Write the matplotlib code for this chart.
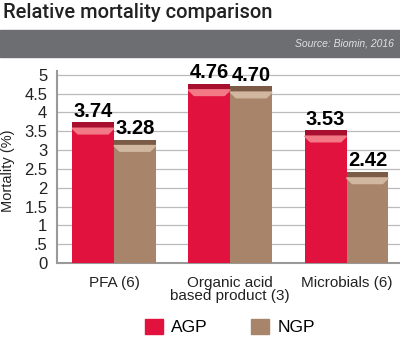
import matplotlib.pyplot as plt
import matplotlib.patches as mpatches
import numpy as np

categories = ["PFA (6)", "Organic acid\nbased product (3)", "Microbials (6)"]
agp = [3.74, 4.76, 3.53]
ngp = [3.28, 4.70, 2.42]
series = ["AGP", "NGP"]
yticks = [0, 0.5, 1, 1.5, 2, 2.5, 3, 3.5, 4, 4.5, 5]
ytick_labels = ["0", ".5", "1", "1.5", "2", "2.5", "3", "3.5", "4", "4.5", "5"]

# body, dark cap, light bevel
red = ("#E2123F", "#A80F2F", "#F27A86")
brown = ("#A8856A", "#7B5B45", "#D2B7A0")

plt.rcParams["font.family"] = ["Liberation Sans", "DejaVu Sans"]

fig = plt.figure(figsize=(4, 3.39), dpi=100)

fig.text(0.008, 0.962, "Relative mortality comparison", fontsize=14.5,
         family="Roboto", weight="medium", va="center", color="#222222")
fig.patches.append(mpatches.Rectangle((0, 1 - 57 / 339), 1, 27 / 339,
                                      transform=fig.transFigure, color="#6D6E71"))
fig.text(0.985, 1 - 44 / 339, "Source: Biomin, 2016", fontsize=7.5, style="italic",
         color="#E0E0E0", ha="right", va="center")

ax = fig.add_axes([57 / 400, 76 / 339, 343 / 400, 192 / 339])
x = np.arange(len(categories))
w = 0.36
cap = 0.16
for vals, off, cols in [(agp, -w / 2, red), (ngp, w / 2, brown)]:
    ax.bar(x + off, vals, w, color=cols[0], zorder=3)
    ax.bar(x + off, cap, w, bottom=np.array(vals) - cap, color=cols[1], zorder=4)
    for xi, v in zip(x + off, vals):
        l, r = xi - w / 2, xi + w / 2
        top = v - cap
        poly = mpatches.Polygon([(l, top), (r, top), (r - 0.05, top - 0.15),
                                 (l + 0.05, top - 0.15)], closed=True,
                                color=cols[2], zorder=5)
        ax.add_patch(poly)
        ax.text(xi, v + 0.04, f"{v:.2f}", ha="center", va="bottom", fontsize=14.5,
                weight="bold", clip_on=False, zorder=6)

ax.set_xlim(-0.49, 2.46)
ax.set_ylim(0, 5.1)
ax.set_yticks(yticks)
ax.set_yticklabels(ytick_labels, fontsize=12, color="#222222")
ax.set_xticks(x)
ax.set_xticklabels(categories, fontsize=11, color="#222222", linespacing=0.95)
ax.tick_params(length=0, pad=7)
ax.tick_params(axis="x", pad=9)
ax.grid(axis="y", color="#BBBBBB", linewidth=0.9, zorder=0)
for s in ["top", "right"]:
    ax.spines[s].set_visible(False)
for s in ["left", "bottom"]:
    ax.spines[s].set_color("#999999")
    ax.spines[s].set_linewidth(1.5)
ax.set_ylabel("Mortality (%)", fontsize=10.5, color="#222222")
ax.yaxis.set_label_coords(-0.122, 0.48)

handles = [mpatches.Patch(color=red[0], label=series[0]),
           mpatches.Patch(color=brown[0], label=series[1])]
fig.legend(handles=handles, loc="center", bbox_to_anchor=(0.575, 1 - 327 / 339),
           ncol=2, frameon=False, fontsize=12.5, handlelength=1.0, handleheight=1.0,
           columnspacing=2.5, handletextpad=0.5)

fig.savefig("out.png", dpi=100)
